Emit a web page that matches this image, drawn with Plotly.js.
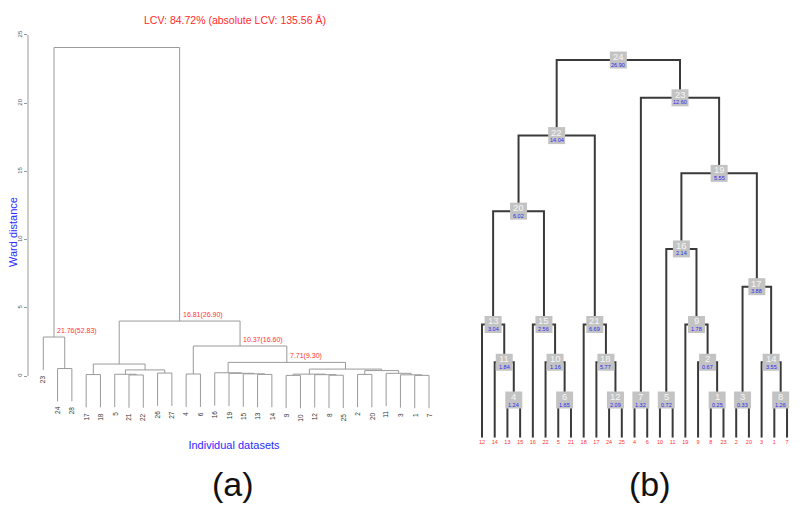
<!DOCTYPE html>
<html>
<head>
<meta charset="utf-8">
<script src="https://cdn.plot.ly/plotly-3.0.1.min.js"></script>
<style>
  html, body { margin: 0; padding: 0; background: #fff; }
  #grafico { width: 800px; height: 511px; }
</style>
</head>
<body>
<div id="grafico"></div>
<script>
// ---- panel (a): Ward dendrogram, R hclust style ----
// leaf order as drawn, left to right
const leavesA = [23, 24, 28, 17, 18, 5, 21, 22, 26, 27, 4, 6, 16, 19, 15, 13, 14,
                 9, 10, 12, 8, 25, 2, 20, 11, 3, 1, 7];
// merges: negative = leaf label, positive = earlier merge (1-based)
const leftA   = [-21, -13, -1, -9, -8, -24, -17, -5, -26, -4, -15, -3, -12, -2, -19, -11, 4, -16, 14, 8, 17, 7, 18, 10, -23, 22, 25];
const rightA  = [-22, -14, -7, -10, -25, -28, -18, 1, -27, -6, 2, 3, 5, -20, 11, 12, 13, 15, 16, 9, 19, 20, 21, 23, 6, 24, 26];
const heightA = [0.08, 0.12, 0.05, 0.05, 0.06, 0.55, 0.11, 0.13, 0.22, 0.15, 0.16, 0.09, 0.10, 0.12, 0.20, 0.20, 0.14, 0.24, 0.40, 0.45, 0.51, 0.88, 1.00, 2.20, 2.86, 4.03, 24.08];
// red notes on some merges
const noteMergeA = [25, 26, 24, 23];
const noteTextA  = ['21.76(52.83)', '16.81(26.90)', '10.37(16.60)', '7.71(9.30)'];
const yTicksA = [0, 5, 10, 15, 20, 25];

// ---- panel (b): tree with numbered nodes ----
const leavesB = [12, 14, 13, 15, 16, 22, 5, 21, 18, 17, 24, 25, 4, 6, 10, 11, 19, 9, 8, 23, 2, 20, 3, 1, 7];
const leftB  = [-8, -9, -2, -13, -10, -5, -4, -1, -19, -22, -14, -24, -12, -3, -16, 5, 3, -17, 16, 13, -18, 20, 7, 22];
const rightB = [-23, 1, -20, -15, -11, -21, -6, -7, 2, 6, 4, -25, 11, 8, 10, 9, 14, 12, 17, 15, 18, 21, 19, 23];
const levelB = [1, 2, 1, 1, 1, 1, 1, 1, 3, 2, 2, 1, 3, 2, 3, 5, 4, 2, 7, 6, 3, 8, 9, 10];
const valueB = ['0.25', '0.67', '0.33', '1.24', '0.72', '1.65', '1.32', '1.26', '1.78', '1.16', '1.84', '2.09',
                '3.04', '3.55', '2.56', '2.14', '3.88', '5.77', '5.55', '6.02', '6.69', '14.04', '12.60', '26.90'];

const FONT = 'Liberation Sans, Arial, Helvetica, sans-serif';

// build the elbow segments of a dendrogram from merge lists
function buildTree(leaves, left, right, hgt, leafY) {
    const pos = {};
    leaves.forEach((l, i) => pos[l] = i + 1);
    const nodeX = [], segX = [], segY = [], leafEnd = {};
    function child(c, h) {
        if (c < 0) {
            const y = leafY(h);
            leafEnd[-c] = y;
            return [pos[-c], y];
        }
        return [nodeX[c - 1], hgt[c - 1]];
    }
    for (let k = 0; k < left.length; k++) {
        const h = hgt[k];
        const a = child(left[k], h);
        const b = child(right[k], h);
        nodeX[k] = (a[0] + b[0]) / 2;
        segX.push(a[0], a[0], b[0], b[0], null);
        segY.push(a[1], h, h, b[1], null);
    }
    return { pos, nodeX, segX, segY, leafEnd };
}

const hang = 0.1 * Math.max(...heightA);
const treeA = buildTree(leavesA, leftA, rightA, heightA, h => h - hang);
const treeB = buildTree(leavesB, leftB, rightB, levelB, h => 0);

const traces = [
    {
        x: treeA.segX, y: treeA.segY, xaxis: 'x', yaxis: 'y',
        mode: 'lines', type: 'scatter', hoverinfo: 'skip',
        line: { color: '#9a9a9a', width: 1 }
    },
    {
        x: treeB.segX, y: treeB.segY, xaxis: 'x2', yaxis: 'y2',
        mode: 'lines', type: 'scatter', hoverinfo: 'skip',
        line: { color: '#3a3a3a', width: 2 }
    },
    {
        x: treeB.nodeX, y: levelB, xaxis: 'x2', yaxis: 'y2',
        mode: 'markers', type: 'scatter', hoverinfo: 'skip', cliponaxis: false,
        marker: { symbol: 'square', size: 17, color: '#c3c3c3', line: { width: 0 } }
    }
];

const annotations = [];

// leaf labels of (a), hanging below each leaf
leavesA.forEach(l => {
    annotations.push({
        x: treeA.pos[l], y: treeA.leafEnd[l], xref: 'x', yref: 'y',
        text: String(l), textangle: -90, showarrow: false,
        xanchor: 'center', yanchor: 'top', yshift: -3,
        font: { family: FONT, size: 6.5, color: '#333' }
    });
});

// red notes of (a)
noteMergeA.forEach((m, i) => {
    annotations.push({
        x: treeA.nodeX[m - 1], y: heightA[m - 1], xref: 'x', yref: 'y',
        text: noteTextA[i], showarrow: false,
        xanchor: 'left', yanchor: 'bottom', xshift: 1, yshift: 0,
        font: { family: FONT, size: 7, color: '#ff3030' }
    });
});

// node numbers and values of (b)
levelB.forEach((lv, k) => {
    annotations.push({
        x: treeB.nodeX[k], y: lv, xref: 'x2', yref: 'y2',
        text: String(k + 1), showarrow: false, yshift: 3.5,
        xanchor: 'center', yanchor: 'middle',
        font: { family: FONT, size: 9.5, color: '#f6f6f6' }
    });
    annotations.push({
        x: treeB.nodeX[k], y: lv, xref: 'x2', yref: 'y2',
        text: valueB[k], showarrow: false, yshift: -4.5,
        xanchor: 'center', yanchor: 'middle',
        font: { family: FONT, size: 5.5, color: '#2a2af0' }
    });
});

// y title of (a)
annotations.push({
    x: 13 / 800, y: 1 - 232 / 511, xref: 'paper', yref: 'paper', showarrow: false,
    xanchor: 'center', yanchor: 'middle',
    text: 'Ward distance', textangle: -90,
    font: { family: FONT, size: 11, color: '#2a2aff' }
});

// panel letters
annotations.push({
    x: 233 / 800, y: 1 - 484 / 511, xref: 'paper', yref: 'paper', showarrow: false,
    xanchor: 'center', yanchor: 'middle',
    text: '(a)', font: { family: FONT, size: 34, color: '#111' }
});
annotations.push({
    x: 650 / 800, y: 1 - 484 / 511, xref: 'paper', yref: 'paper', showarrow: false,
    xanchor: 'center', yanchor: 'middle',
    text: '(b)', font: { family: FONT, size: 34, color: '#111' }
});

const layout = {
    width: 800, height: 511,
    margin: { l: 0, r: 0, t: 0, b: 0 },
    paper_bgcolor: '#fff', plot_bgcolor: '#fff',
    showlegend: false,
    font: { family: FONT },
    title: {
        text: 'LCV: 84.72% (absolute LCV: 135.56 Å)',
        x: 235 / 800, y: 1 - 20 / 511, xanchor: 'center', yanchor: 'middle',
        font: { family: FONT, size: 10.5, color: '#ff2a2a' }
    },
    xaxis: {
        domain: [28 / 800, 440 / 800], range: [-0.071, 28.77],
        showgrid: false, zeroline: false, showline: false, showticklabels: false, ticks: '',
        title: { text: 'Individual datasets', standoff: 17, font: { family: FONT, size: 11, color: '#2a2aff' } }
    },
    yaxis: {
        domain: [1 - 423.8 / 511, 1 - 29.5 / 511], range: [-3.5, 25.4],
        showgrid: false, zeroline: false, showline: false,
        tickvals: yTicksA, ticks: 'outside', ticklen: 3, tickcolor: '#999', tickwidth: 1,
        tickangle: -90, tickfont: { family: FONT, size: 6, color: '#555' }
    },
    xaxis2: {
        domain: [470 / 800, 1], range: [0.0557, 26.02], anchor: 'y2',
        showgrid: false, zeroline: false, showline: false, ticks: '',
        tickvals: leavesB.map((l, i) => i + 1), ticktext: leavesB.map(String),
        tickfont: { family: FONT, size: 5.5, color: '#ff3030' }
    },
    yaxis2: {
        domain: [1 - 437.8 / 511, 1 - 40 / 511], range: [0, 10.53], anchor: 'x2',
        showgrid: false, zeroline: false, showline: false, showticklabels: false, ticks: ''
    },
    shapes: [
        // y axis line of (a), from 0 to 25 only
        {
            type: 'line', xref: 'paper', yref: 'y',
            x0: 28 / 800, x1: 28 / 800, y0: yTicksA[0], y1: yTicksA[yTicksA.length - 1],
            line: { color: '#999', width: 1 }
        }
    ],
    annotations: annotations
};

Plotly.newPlot('grafico', traces, layout, { staticPlot: true });
</script>
</body>
</html>
